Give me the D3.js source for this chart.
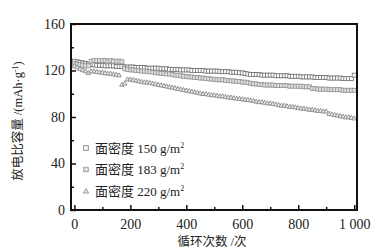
<!DOCTYPE html>
<html>
<head>
<meta charset="utf-8">
<script src="https://cdn.jsdelivr.net/npm/d3@7"></script>
<style>
  body { margin: 0; background: #fff; }
  text { font-family: "Liberation Serif", "Noto Sans CJK SC", serif; fill: #222; }
</style>
</head>
<body>
<div id="chart"></div>
<script>
//----------------------------
// cycle life chart
//----------------------------
const WIDTH = 380;
const HEIGHT = 248;

// cycle numbers (x)
const cycles = [0, 10, 20, 30, 40, 50, 60, 70, 80, 90,
  100, 110, 120, 130, 140, 150, 160, 170, 180, 190,
  200, 210, 220, 230, 240, 250, 260, 270, 280, 290,
  300, 310, 320, 330, 340, 350, 360, 370, 380, 390,
  400, 410, 420, 430, 440, 450, 460, 470, 480, 490,
  500, 510, 520, 530, 540, 550, 560, 570, 580, 590,
  600, 610, 620, 630, 640, 650, 660, 670, 680, 690,
  700, 710, 720, 730, 740, 750, 760, 770, 780, 790,
  800, 810, 820, 830, 840, 850, 860, 870, 880, 890,
  900, 910, 920, 930, 940, 950, 960, 970, 980, 990, 1000];

// discharge capacity, mAh/g
const cap150 = [128, 127.5, 127, 126.5, 126, 125.5, 125, 125, 124.5, 124.5,
  124.5, 124, 124, 124, 124, 123.5, 123.5, 123.5, 123, 123,
  123, 123, 122.5, 122.5, 122.5, 122.5, 122, 122, 122, 122,
  122, 121.5, 121.5, 121.5, 121, 121, 121, 121, 120.5, 120.5,
  120.5, 120.5, 120, 120, 120, 120, 120, 119.5, 119.5, 119.5,
  119.5, 119.5, 119, 119, 119, 119, 118.5, 118.5, 118.5, 118,
  118, 117.5, 117, 116.5, 116.5, 116.5, 116.5, 116, 116, 116,
  116, 116, 115.5, 115.5, 115.5, 115.5, 115.5, 115, 115, 115,
  115, 114.5, 114.5, 114.5, 114.5, 114.5, 114, 114, 114, 114,
  114, 113.5, 113.5, 113.5, 113.5, 113.5, 113, 113, 113, 113, 116];

const cap183 = [126, 125.5, 125, 124.5, 124, 124, 128, 128.5, 128.5, 128.5,
  128.5, 128.5, 128, 128.5, 128, 128, 128, 127.5, 121.5, 121,
  120.5, 120.5, 120, 120, 119.5, 119.5, 119, 119, 118.5, 118,
  118, 117.5, 117.5, 117, 117, 116.5, 116, 116, 115.5, 115,
  115, 114.5, 114.5, 114, 114, 113.5, 113.5, 113, 113, 112.5,
  112.5, 112, 112, 112, 111.5, 111.5, 111, 111, 110.5, 110.5,
  110, 110, 109.5, 109, 108.5, 108.5, 108, 108, 107.5, 107.5,
  107.5, 107.5, 107, 107, 107, 107, 107, 106.5, 106.5, 106.5,
  106.5, 106.5, 106, 106, 106, 104.5, 104.5, 104, 104, 104,
  104, 103.5, 103.5, 103.5, 103.5, 103.5, 103, 103, 103, 103, 103];

const cap220 = [124, 123, 121.5, 120.5, 119.5, 118, 119.5, 119.5, 119, 118.5,
  118.5, 118, 117.5, 117.5, 117, 116.5, 116, 108, 109, 112.5,
  112.5, 112, 111.5, 111, 110.5, 110, 110, 109.5, 109, 108.5,
  108, 107.5, 107, 106.5, 106, 105.5, 105, 104.5, 104, 103.5,
  103, 102.5, 102, 101.5, 101, 100.5, 100, 100, 99.5, 99,
  99, 98.5, 98, 98, 97.5, 97, 97, 96.5, 96, 96,
  95.5, 95, 95, 94.5, 94, 93.5, 93, 93, 92.5, 92,
  92, 91.5, 91, 90.5, 90, 90, 89.5, 89, 89, 88.5,
  88, 87.5, 87.5, 87, 86.5, 86.5, 86, 85.5, 85.5, 85,
  85, 83, 82.5, 82, 81.5, 81, 80.5, 80, 80, 79.5, 79];

const seriesNames = ["150", "183", "220"];
const xTicks = [0, 200, 400, 600, 800, 1000];
const xTickLabels = ["0", "200", "400", "600", "800", "1 000"];
const xMinor = [100, 300, 500, 700, 900];
const yTicks = [0, 40, 80, 120, 160];
const yMinor = [20, 60, 100, 140];

const margin = { top: 24, right: 23, bottom: 38, left: 71 };
const width_g = WIDTH - margin.left - margin.right;
const height_g = HEIGHT - margin.top - margin.bottom;

const svg = d3
  .select("#chart")
  .append("svg")
  .attr("width", WIDTH)
  .attr("height", HEIGHT);

const g = svg
  .append("g")
  .attr("transform", `translate(${margin.left},${margin.top})`);

const x = d3.scaleLinear().domain([-12, 1010]).range([0, width_g]);
const y = d3.scaleLinear().domain([0, 160]).range([height_g, 0]);

// markers
const styles = [
  { shape: "square", stroke: "#6e6e6e", fill: "#fff" },
  { shape: "square", stroke: "#929292", fill: "#e0e0e0" },
  { shape: "triangle", stroke: "#808080", fill: "#eeeeee" },
];
const allSeries = [cap150, cap183, cap220];

function drawMarker(sel, shape, size) {
  if (shape === "square") {
    sel.append("rect")
      .attr("x", -size / 2).attr("y", -size / 2)
      .attr("width", size).attr("height", size);
  } else {
    const h = size * 0.9;
    sel.append("path")
      .attr("d", `M0,${-h / 2 - 0.5}L${size / 2 + 0.3},${h / 2}L${-size / 2 - 0.3},${h / 2}Z`);
  }
}

allSeries.forEach((vals, si) => {
  const st = styles[si];
  const pts = g.append("g")
    .attr("stroke", st.stroke)
    .attr("fill", st.fill)
    .attr("stroke-width", 0.8)
    .selectAll("g")
    .data(vals)
    .enter()
    .append("g")
    .attr("transform", (d, i) => `translate(${x(cycles[i])},${y(d)})`);
  pts.each(function () { drawMarker(d3.select(this), st.shape, 4); });
});

// axes (ticks inward)
g.append("g")
  .attr("transform", `translate(0,${height_g})`)
  .call(d3.axisBottom(x).tickValues(xMinor).tickSize(-3).tickFormat(""))
  .call((a) => a.select(".domain").remove());
g.append("g")
  .attr("transform", `translate(0,${height_g})`)
  .call(d3.axisBottom(x).tickValues(xTicks).tickSize(-5).tickPadding(9)
    .tickFormat((d, i) => xTickLabels[i]))
  .call((a) => a.select(".domain").remove())
  .selectAll("text")
  .attr("font-size", 14)
  .attr("font-family", "Liberation Serif, serif")
  .attr("fill", "#222");

g.append("g")
  .call(d3.axisLeft(y).tickValues(yMinor).tickSize(-3).tickFormat(""))
  .call((a) => a.select(".domain").remove());
g.append("g")
  .call(d3.axisLeft(y).tickValues(yTicks).tickSize(-5).tickPadding(6))
  .call((a) => a.select(".domain").remove())
  .selectAll("text")
  .attr("font-size", 14)
  .attr("font-family", "Liberation Serif, serif")
  .attr("fill", "#222");

g.selectAll(".tick line").attr("stroke", "#111").attr("stroke-width", 1.5);

// frame
g.append("rect")
  .attr("width", width_g)
  .attr("height", height_g)
  .attr("fill", "none")
  .attr("stroke", "#111")
  .attr("stroke-width", 2);

// legend
const legend = g.append("g").attr("transform", "translate(15,124)");
seriesNames.forEach((name, i) => {
  const row = legend.append("g").attr("transform", `translate(0,${i * 21.5})`);
  const m = row.append("g")
    .attr("stroke", styles[i].stroke)
    .attr("fill", styles[i].fill)
    .attr("stroke-width", 0.8);
  drawMarker(m, styles[i].shape, 4.5);
  const t = row.append("text")
    .attr("x", 9)
    .attr("y", 4.5)
    .attr("font-size", 13)
    .attr("fill", "#333");
  t.append("tspan").text(`面密度 ${name} g/m`);
  t.append("tspan").attr("dy", -5).attr("font-size", 8).text("2");
});

// axis titles
svg.append("text")
  .attr("x", 212)
  .attr("y", 246)
  .attr("text-anchor", "middle")
  .attr("font-size", 12.5)
  .attr("fill", "#333")
  .text("循环次数 /次");

const yTitle = svg.append("text")
  .attr("transform", "translate(22,121) rotate(-90)")
  .attr("text-anchor", "middle")
  .attr("font-size", 12.5)
  .attr("fill", "#333");
yTitle.append("tspan").text("放电比容量 /(mAh·g");
yTitle.append("tspan").attr("dy", -4).attr("font-size", 8).text("-1");
yTitle.append("tspan").attr("dy", 4).text(")");
</script>
</body>
</html>
